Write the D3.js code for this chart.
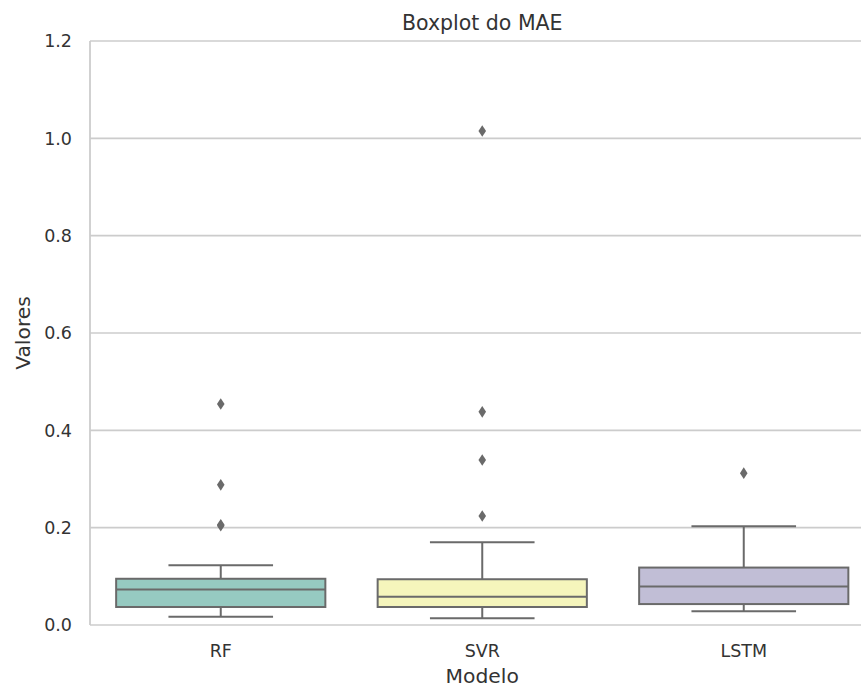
<!DOCTYPE html>
<html>
<head>
<meta charset="utf-8">
<script src="https://cdn.jsdelivr.net/npm/d3@7"></script>
<style>
  body { margin: 0; background: #fff; }
  text { font-family: "DejaVu Sans", sans-serif; fill: #333333; }
</style>
</head>
<body>
<div id="chart"></div>
<script>
// values
var models   = ["RF", "SVR", "LSTM"];
var whiskLo  = [0.017, 0.014, 0.028];
var q1       = [0.037, 0.037, 0.043];
var medians  = [0.073, 0.058, 0.079];
var q3       = [0.095, 0.094, 0.118];
var whiskHi  = [0.123, 0.170, 0.203];
var outliers = [[0.454, 0.288, 0.204, 0.206], [1.015, 0.438, 0.339, 0.224], [0.312]];
var fills    = ["#96cac1", "#f5f5bc", "#c1bed6"];
var yTicks   = [0, 0.2, 0.4, 0.6, 0.8, 1.0, 1.2];

var W = 861, H = 688;
var plotL = 90, plotR = 874.5, plotT = 41, plotB = 625;
var lineCol = "#6a6a6a";

var svg = d3.select("#chart").append("svg")
    .attr("width", W).attr("height", H);

var x = d3.scaleBand().domain(models).range([plotL, plotR]).padding(0);
var y = d3.scaleLinear().domain([0, 1.2]).range([plotB, plotT]);

// grid
svg.append("g").selectAll("line")
  .data(yTicks)
  .enter().append("line")
    .attr("x1", plotL).attr("x2", plotR)
    .attr("y1", function (d) { return y(d); })
    .attr("y2", function (d) { return y(d); })
    .attr("stroke", "#cccccc").attr("stroke-width", 1.6);

// left spine
svg.append("line")
  .attr("x1", plotL).attr("x2", plotL)
  .attr("y1", plotT).attr("y2", plotB)
  .attr("stroke", "#cccccc").attr("stroke-width", 1.8);

// y tick labels
svg.append("g").selectAll("text")
  .data(yTicks)
  .enter().append("text")
    .attr("x", 72)
    .attr("y", function (d) { return y(d); })
    .attr("dy", "0.36em")
    .attr("text-anchor", "end")
    .style("font-size", "17.5px")
    .text(function (d) { return d3.format(".1f")(d); });

// x tick labels
svg.append("g").selectAll("text")
  .data(models)
  .enter().append("text")
    .attr("x", function (d) { return x(d) + x.bandwidth() / 2; })
    .attr("y", 657)
    .attr("text-anchor", "middle")
    .style("font-size", "17.5px")
    .text(function (d) { return d; });

// boxes
var boxW = x.bandwidth() * 0.8;
var capW = boxW / 2;
var g = svg.append("g").selectAll("g")
  .data(models)
  .enter().append("g");

g.each(function (m, i) {
  var s = d3.select(this);
  var cx = x(m) + x.bandwidth() / 2;

  // whiskers
  s.append("line")
    .attr("x1", cx).attr("x2", cx)
    .attr("y1", y(q3[i])).attr("y2", y(whiskHi[i]))
    .attr("stroke", lineCol).attr("stroke-width", 2);
  s.append("line")
    .attr("x1", cx).attr("x2", cx)
    .attr("y1", y(q1[i])).attr("y2", y(whiskLo[i]))
    .attr("stroke", lineCol).attr("stroke-width", 2);
  [whiskHi[i], whiskLo[i]].forEach(function (v) {
    s.append("line")
      .attr("x1", cx - capW / 2).attr("x2", cx + capW / 2)
      .attr("y1", y(v)).attr("y2", y(v))
      .attr("stroke", lineCol).attr("stroke-width", 2);
  });

  // box
  s.append("rect")
    .attr("x", cx - boxW / 2)
    .attr("y", y(q3[i]))
    .attr("width", boxW)
    .attr("height", y(q1[i]) - y(q3[i]))
    .attr("fill", fills[i])
    .attr("stroke", lineCol).attr("stroke-width", 2);

  // median
  s.append("line")
    .attr("x1", cx - boxW / 2).attr("x2", cx + boxW / 2)
    .attr("y1", y(medians[i])).attr("y2", y(medians[i]))
    .attr("stroke", lineCol).attr("stroke-width", 2);

  // fliers (thin diamonds)
  s.selectAll("path.flier")
    .data(outliers[i])
    .enter().append("path")
      .attr("class", "flier")
      .attr("d", function (v) {
        var py = y(v), hw = 3.8, hh = 5.8;
        return "M" + cx + "," + (py - hh) + "L" + (cx + hw) + "," + py +
               "L" + cx + "," + (py + hh) + "L" + (cx - hw) + "," + py + "Z";
      })
      .attr("fill", lineCol);
});

// titles
svg.append("text")
  .attr("x", (plotL + plotR) / 2)
  .attr("y", 30)
  .attr("text-anchor", "middle")
  .style("font-size", "20.5px")
  .text("Boxplot do MAE");

svg.append("text")
  .attr("x", (plotL + plotR) / 2)
  .attr("y", 683)
  .attr("text-anchor", "middle")
  .style("font-size", "20.3px")
  .text("Modelo");

svg.append("text")
  .attr("transform", "translate(30," + ((plotT + plotB) / 2) + ") rotate(-90)")
  .attr("text-anchor", "middle")
  .style("font-size", "20.3px")
  .text("Valores");
</script>
</body>
</html>
